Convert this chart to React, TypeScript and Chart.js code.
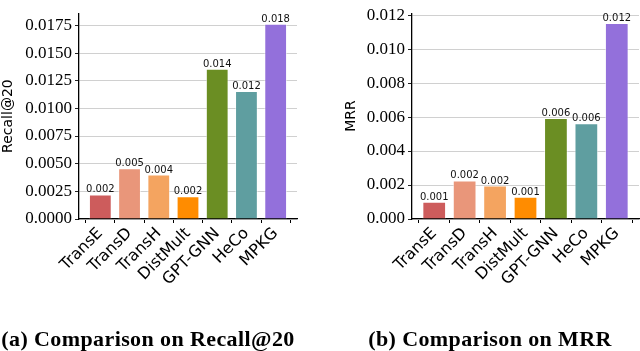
import React, { useEffect, useRef } from "react";
import { Chart, registerables } from "chart.js";

Chart.register(...registerables);

// ---- data ----
const methods = ["TransE", "TransD", "TransH", "DistMult", "GPT-GNN", "HeCo", "MPKG"];
const barColors = ["#CD5C5C", "#E9967A", "#F4A460", "#FF8C00", "#6B8E23", "#5F9EA0", "#9370DB"];
const recallValues = [0.00222, 0.00458, 0.00402, 0.00205, 0.01358, 0.01157, 0.01765];
const mrrValues = [0.00101, 0.00227, 0.00197, 0.00131, 0.00595, 0.00563, 0.01153];
const recallTicks = [0, 0.0025, 0.005, 0.0075, 0.01, 0.0125, 0.015, 0.0175];
const mrrTicks = [0, 0.002, 0.004, 0.006, 0.008, 0.01, 0.012];
const recallMax = 0.0186;
const mrrMax = 0.01211;
const captions = ["(a) Comparison on Recall@20", "(b) Comparison on MRR"];

const valueLabelPlugin = {
  id: "valueLabels",
  afterDatasetsDraw(chart: any) {
    const ctx = chart.ctx;
    const meta = chart.getDatasetMeta(0);
    const data = chart.data.datasets[0].data;
    ctx.save();
    ctx.font = "10px 'DejaVu Sans'";
    ctx.fillStyle = "#111";
    ctx.textAlign = "center";
    ctx.textBaseline = "alphabetic";
    meta.data.forEach((bar: any, i: number) => {
      const v = data[i].y;
      ctx.fillText(v.toFixed(3), bar.x, bar.y - 2);
    });
    ctx.restore();
  },
};

type PanelProps = {
  values: number[];
  ticks: number[];
  decimals: number;
  yMax: number;
  yTitle: string;
  padLeft: number;
  padRight: number;
  padTop: number;
  axisWidth: number;
  left: number;
};

function Panel(p: PanelProps) {
  const ref = useRef<HTMLCanvasElement | null>(null);
  useEffect(() => {
    if (!ref.current) return;
    const chart = new Chart(ref.current, {
      type: "bar",
      data: {
        datasets: [
          {
            data: p.values.map((v, i) => ({ x: i, y: v })) as any,
            backgroundColor: barColors,
            borderColor: "rgba(255,255,255,0.55)",
            borderWidth: 1,
            barPercentage: 0.78,
            categoryPercentage: 1,
          },
        ],
      },
      options: {
        responsive: false,
        animation: false,
        devicePixelRatio: 1,
        layout: { padding: { left: p.padLeft, right: p.padRight, top: p.padTop, bottom: 0 } },
        plugins: { legend: { display: false }, tooltip: { enabled: false } },
        scales: {
          x: {
            type: "linear",
            min: -0.73,
            max: 6.73,
            offset: false,
            afterBuildTicks: (s: any) => {
              s.ticks = methods.map((_, i) => ({ value: i }));
            },
            afterFit: (s: any) => {
              s.height = 351 - 219;
            },
            ticks: {
              autoSkip: false,
              minRotation: 45,
              maxRotation: 45,
              padding: 1,
              color: "#000",
              font: { family: "'DejaVu Sans'", size: 16 },
              callback: (v: any) => methods[Math.round(Number(v))] ?? "",
            },
            grid: { drawOnChartArea: false, tickLength: 4, tickColor: "#000", color: "#000" },
            border: { color: "#000", width: 1.3 },
          },
          y: {
            min: 0,
            max: p.yMax,
            afterBuildTicks: (s: any) => {
              s.ticks = p.ticks.map((v) => ({ value: v }));
            },
            afterFit: (s: any) => {
              s.width = p.axisWidth;
            },
            ticks: {
              padding: 3,
              color: "#000",
              font: { family: "'Liberation Serif'", size: 17 },
              callback: (v: any) => Number(v).toFixed(p.decimals),
            },
            grid: { color: "#d0d0d0", lineWidth: 1, tickColor: "#222", tickLength: 4 },
            border: { color: "#000", width: 1.3 },
            title: {
              display: true,
              text: p.yTitle,
              color: "#000",
              font: { family: "'DejaVu Sans'", size: 14 },
              padding: { top: 0, bottom: 0 },
            },
          },
        },
      } as any,
      plugins: [valueLabelPlugin],
    });
    return () => chart.destroy();
  }, []);
  return (
    <canvas
      ref={ref}
      width={320}
      height={351}
      style={{ position: "absolute", left: p.left, top: 0, width: 320, height: 351 }}
    />
  );
}

export default function App() {
  const capStyle: React.CSSProperties = {
    position: "absolute",
    top: 328,
    width: 320,
    textAlign: "center",
    whiteSpace: "nowrap",
    fontFamily: "'Liberation Serif', serif",
    fontWeight: "bold",
    fontSize: 22,
    lineHeight: "22px",
    letterSpacing: 0.4,
    color: "#000",
  };
  return (
    <div style={{ position: "absolute", left: 0, top: 0, width: 640, height: 351, background: "#fff", overflow: "hidden" }}>
      <Panel values={recallValues} ticks={recallTicks} decimals={4} yMax={recallMax} yTitle="Recall@20"
        padLeft={0} padRight={23} padTop={4} axisWidth={79} left={0} />
      <Panel values={mrrValues} ticks={mrrTicks} decimals={3} yMax={mrrMax} yTitle="MRR"
        padLeft={23} padRight={1} padTop={6} axisWidth={69} left={320} />
      <div style={{ ...capStyle, left: 148 - 160 }}>{captions[0]}</div>
      <div style={{ ...capStyle, left: 490 - 160 }}>{captions[1]}</div>
    </div>
  );
}
